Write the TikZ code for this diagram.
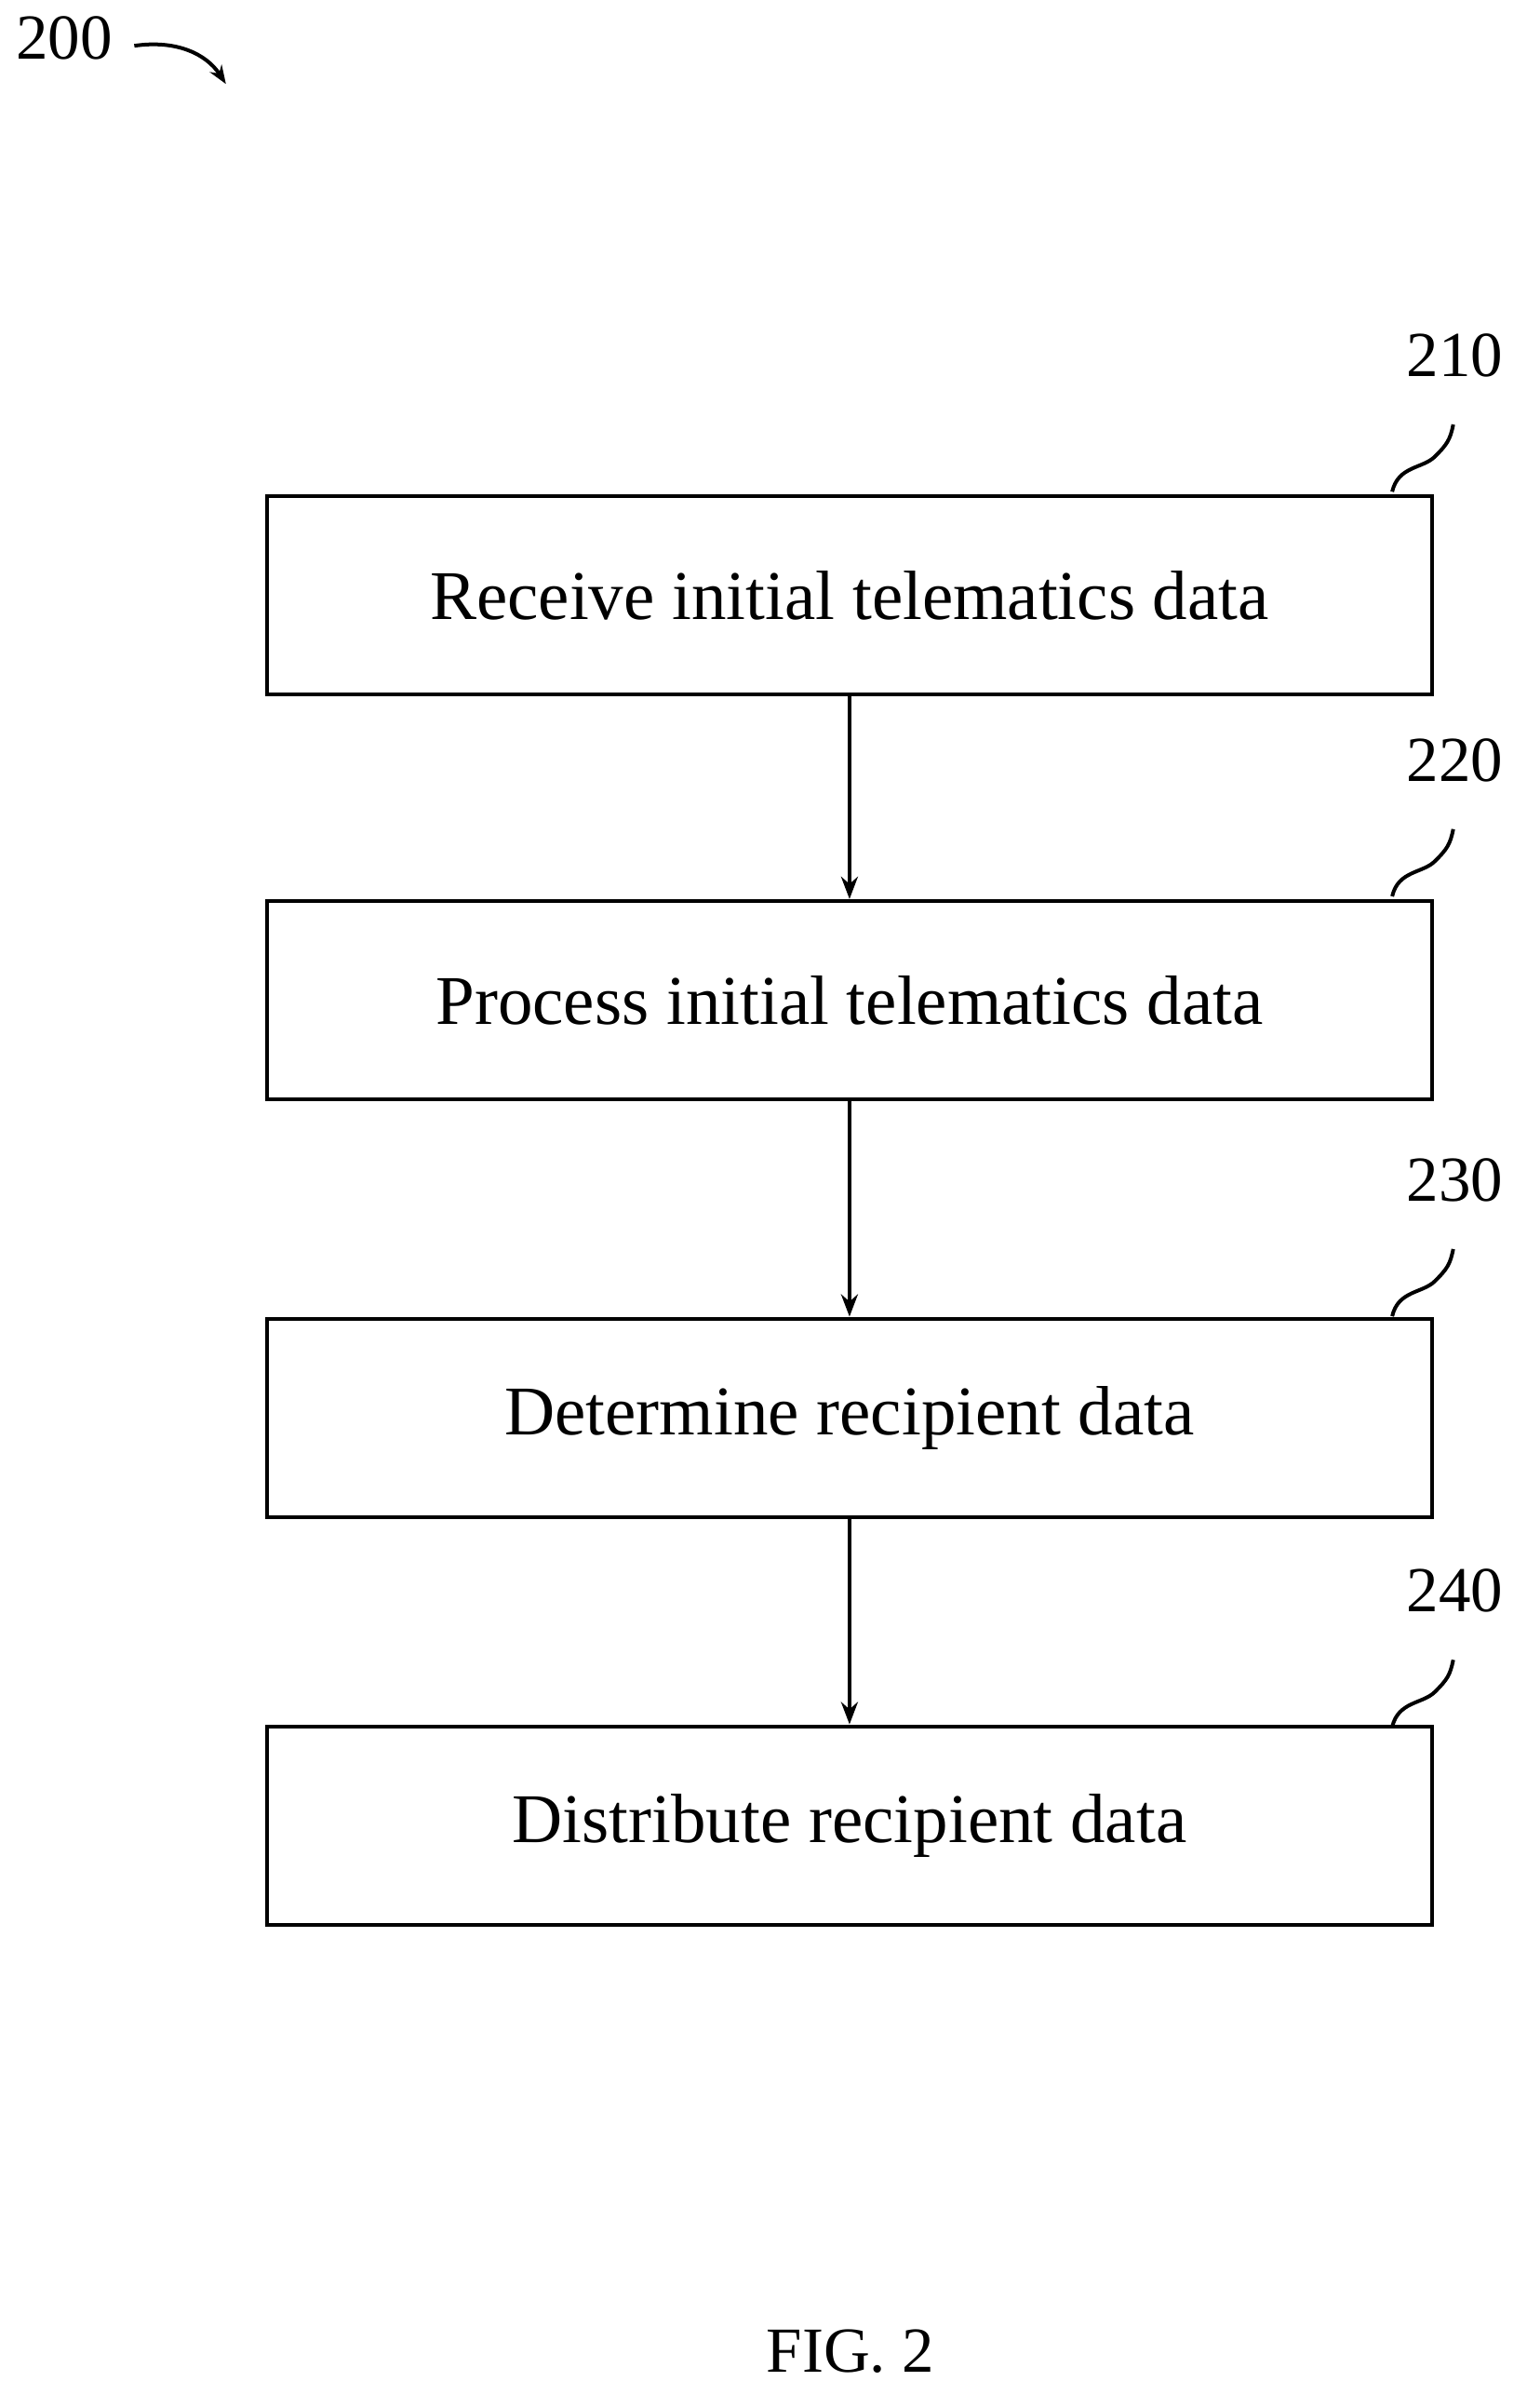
\documentclass[tikz,border=0pt]{standalone}
\usepackage{fontspec}
\setmainfont{Liberation Serif}
\usetikzlibrary{arrows.meta}
\begin{document}
\begin{tikzpicture}[x=1.641pt,y=-1.641pt,
  box/.style={draw,line width=4pt,minimum width=763*1.641pt,minimum height=130*1.641pt,inner sep=0pt,font=\fontsize{75}{84}\selectfont},
  lbl/.style={font=\fontsize{69}{76}\selectfont},
  arr/.style={line width=4pt,-{Stealth[length=24pt,width=18pt]}},
  lead/.style={line width=4pt}]
\useasboundingbox (0,0) rectangle (1000,1577);
\node[box] (b1) at (556.5,390) {Receive initial telematics data};
\node[box] (b2) at (556.5,655) {Process initial telematics data};
\node[box] (b3) at (556.5,928.5) {Determine recipient data};
\node[box] (b4) at (556.5,1195.5) {Distribute recipient data};
\draw[arr] (b1) -- (b2);
\draw[arr] (b2) -- (b3);
\draw[arr] (b3) -- (b4);
\foreach \n/\y/\t in {b1/233/210,b2/498/220,b3/773/230,b4/1042/240}{
  \node[lbl] (l\t) at (953,\y) {\t};
  \coordinate (s\t) at (912,\y+89);
  \draw[lead] (s\t) .. controls (916,\y+72) and (932,\y+74) .. (940,\y+66) .. controls (948,\y+58) and (950,\y+55) .. (952,\y+45);
}
\node[lbl] (l200) at (42,25) {200};
\coordinate (a200) at (148,55);
\draw[line width=4pt,-{Stealth[length=20pt,width=15pt]}] (88,30) .. controls (115,26) and (135,35) .. (a200);
\node[lbl] (fig) at (557,1540) {FIG. 2};
\end{tikzpicture}
\end{document}
